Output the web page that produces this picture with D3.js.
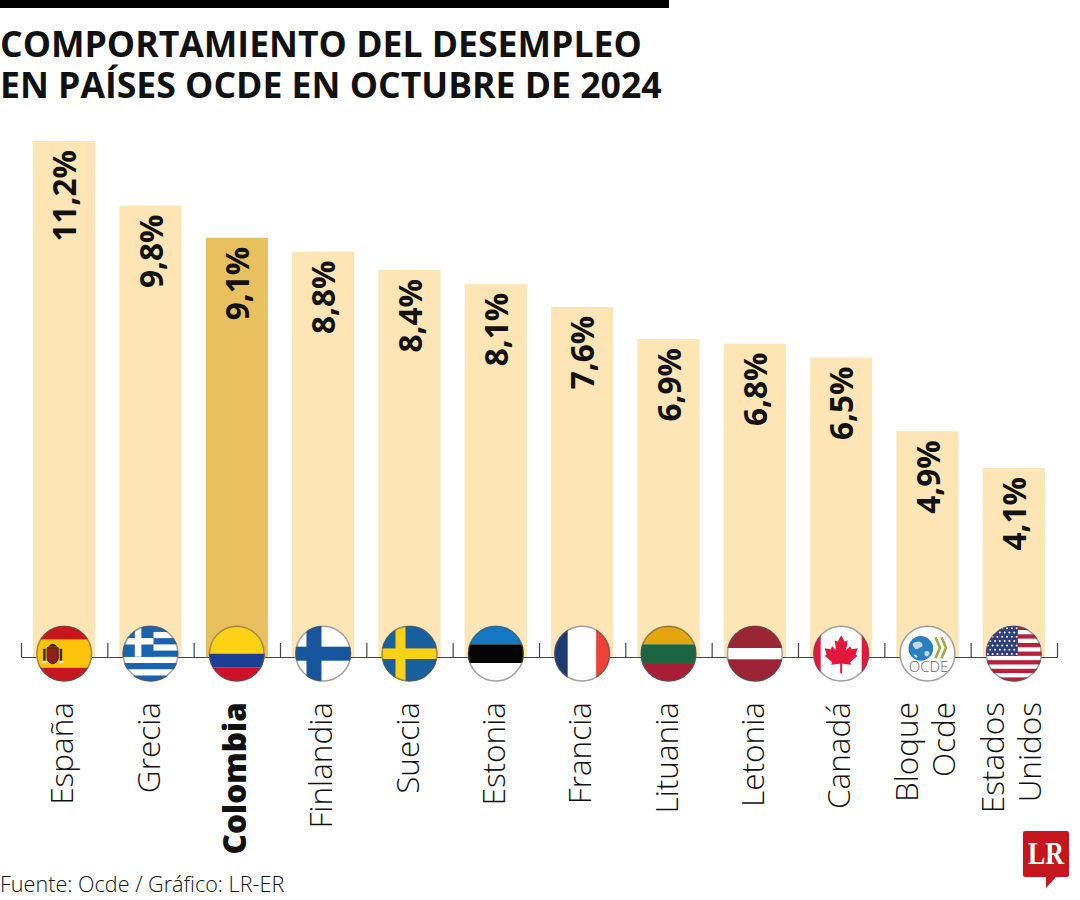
<!DOCTYPE html>
<html>
<head>
<meta charset="utf-8">
<script src="https://cdn.jsdelivr.net/npm/d3@7"></script>
<style>
  html, body { margin: 0; padding: 0; background: #fff; }
  svg { display: block; }
  text { font-family: "Open Sans", "Noto Sans", sans-serif; fill: #111; }
</style>
</head>
<body>
<svg width="1080" height="900"></svg>
<script>
// data
var paises = ["España", "Grecia", "Colombia", "Finlandia", "Suecia", "Estonia", "Francia", "Lituania", "Letonia", "Canadá", "Bloque Ocde", "Estados Unidos"];
var desempleo = [11.2, 9.8, 9.1, 8.8, 8.4, 8.1, 7.6, 6.9, 6.8, 6.5, 4.9, 4.1];
var etiquetas = ["11,2%", "9,8%", "9,1%", "8,8%", "8,4%", "8,1%", "7,6%", "6,9%", "6,8%", "6,5%", "4,9%", "4,1%"];
var titulo = ["COMPORTAMIENTO DEL DESEMPLEO", "EN PAÍSES OCDE EN OCTUBRE DE 2024"];
var fuente = "Fuente: Ocde / Gráfico: LR-ER";
var destacado = "Colombia";

var svg = d3.select("svg");
var baseY = 657, topY = 141;

var x = d3.scaleBand().domain(paises).range([21, 1057]).paddingInner(0.28).paddingOuter(0.14);
var y = d3.scaleLinear().domain([0, 11.2]).range([baseY, topY]);

// top rule
svg.append("rect").attr("x", 0).attr("y", 0).attr("width", 669).attr("height", 8).attr("fill", "#000");

// title
svg.selectAll("text.titulo").data(titulo).enter().append("text")
    .attr("class", "titulo")
    .attr("x", 0)
    .attr("y", function(d, i) { return 57 + i * 41; })
    .style("font-size", "35.6px")
    .style("font-weight", 700)
    .text(function(d) { return d; });

// bars
svg.selectAll("rect.bar").data(paises).enter().append("rect")
    .attr("class", "bar")
    .attr("x", function(d) { return x(d); })
    .attr("y", function(d, i) { return y(desempleo[i]); })
    .attr("width", x.bandwidth())
    .attr("height", function(d, i) { return baseY - y(desempleo[i]); })
    .attr("fill", function(d) { return d == destacado ? "#e8c060" : "#fde5b6"; });

// axis with ticks between the bars
var ejeX = d3.scalePoint().domain(d3.range(paises.length + 1)).range([21, 1057]);
var eje = svg.append("g")
    .attr("transform", "translate(0," + baseY + ")")
    .call(d3.axisBottom(ejeX).tickSize(-14).tickSizeOuter(0).tickFormat(""));
eje.selectAll("path, line").attr("stroke", "#444").attr("stroke-width", 1.2);

// value labels
svg.selectAll("text.valor").data(etiquetas).enter().append("text")
    .attr("class", "valor")
    .attr("text-anchor", "end")
    .attr("transform", function(d, i) {
      return "translate(" + (x(paises[i]) + x.bandwidth() / 2 + 12) + "," + (y(desempleo[i]) + 9) + ") rotate(-90)";
    })
    .style("font-size", "31.5px")
    .style("font-weight", 700)
    .text(function(d) { return d; });

// country labels, the long names take two lines
paises.forEach(function(p) {
  var lineas = p == "Bloque Ocde" || p == "Estados Unidos" ? p.split(" ") : [p];
  lineas.forEach(function(t, j) {
    var cx = x(p) + x.bandwidth() / 2 + 9 + (lineas.length == 2 ? (j == 0 ? -18.5 : 18) : 0);
    svg.append("text")
      .attr("text-anchor", "end")
      .attr("transform", "translate(" + cx + ",702) rotate(-90)")
      .style("font-size", "31.5px")
      .style("font-weight", p == destacado ? 800 : 300)
      .text(t);
  });
});

// flags, drawn in a 56x56 box centred on the bar
var franjas = {
  "Colombia": [["#fcd116", 0.5], ["#1c3f94", 0.25], ["#ce1126", 0.25]],
  "Estonia": [["#1578c2", 1], ["#050505", 1], ["#fff", 1]],
  "Lituania": [["#e5a50f", 1], ["#1c6442", 1], ["#a81e36", 1]],
  "Letonia": [["#9b2535", 2], ["#fff", 1], ["#9b2535", 2]],
  "España": [["#c8161d", 1], ["#fcc30b", 2], ["#c8161d", 1]]
};

var defs = svg.append("defs");
paises.forEach(function(p, i) {
  var id = "flag" + i;
  defs.append("clipPath").attr("id", id).append("circle").attr("r", 28);
  var cx = x(p) + x.bandwidth() / 2;
  var g = svg.append("g").attr("transform", "translate(" + cx + ",653.7)");
  var f = g.append("g").attr("clip-path", "url(#" + id + ")");
  f.append("rect").attr("x", -28).attr("y", -28).attr("width", 56).attr("height", 56).attr("fill", "#fff");
  if (franjas[p]) {
    var total = d3.sum(franjas[p], function(d) { return d[1]; }), acum = 0;
    franjas[p].forEach(function(d) {
      f.append("rect").attr("x", -28).attr("y", -28 + acum / total * 56)
        .attr("width", 56).attr("height", d[1] / total * 56).attr("fill", d[0]);
      acum += d[1];
    });
  }
  if (p == "España") escudo(f);
  if (p == "Grecia") grecia(f);
  if (p == "Finlandia") cruz(f, "#fff", "#17559c", -9.2, 15, 14);
  if (p == "Suecia") cruz(f, "#1a5f9e", "#fcd116", -9, 10, 10.6);
  if (p == "Francia") {
    f.append("rect").attr("x", -28).attr("y", -28).attr("width", 13.5).attr("height", 56).attr("fill", "#1d3a73");
    f.append("rect").attr("x", 14).attr("y", -28).attr("width", 14).attr("height", 56).attr("fill", "#ef4135");
  }
  if (p == "Canadá") canada(f);
  if (p == "Bloque Ocde") ocde(f);
  if (p == "Estados Unidos") usa(f);
  g.append("circle").attr("r", 27.4).attr("fill", "none").attr("stroke", "#555").attr("stroke-opacity", 0.55).attr("stroke-width", 1.5);
});

function cruz(f, fondo, color, cxx, anchoV, anchoH) {
  f.append("rect").attr("x", -28).attr("y", -28).attr("width", 56).attr("height", 56).attr("fill", fondo);
  f.append("rect").attr("x", cxx - anchoV / 2).attr("y", -28).attr("width", anchoV).attr("height", 56).attr("fill", color);
  f.append("rect").attr("x", -28).attr("y", -anchoH / 2).attr("width", 56).attr("height", anchoH).attr("fill", color);
}

function grecia(f) {
  var azul = "#1a63ae", h = 56 / 9;
  d3.range(9).forEach(function(k) {
    if (k % 2 == 0) f.append("rect").attr("x", -28).attr("y", -28 + k * h).attr("width", 56).attr("height", h).attr("fill", azul);
  });
  f.append("rect").attr("x", -28).attr("y", -28).attr("width", 31).attr("height", 31).attr("fill", azul);
  f.append("rect").attr("x", -28).attr("y", -15.6).attr("width", 31).attr("height", 6.4).attr("fill", "#fff");
  f.append("rect").attr("x", -15.7).attr("y", -28).attr("width", 6.6).attr("height", 31).attr("fill", "#fff");
}

function escudo(f) {
  f.append("path").attr("d", "M-17,-6 h11 v10 q0,5 -5.5,6 q-5.5,-1 -5.5,-6 z").attr("fill", "#8d1f1c").attr("stroke", "#3a1a10").attr("stroke-width", 1);
  f.append("path").attr("d", "M-16,-7 q4.5,-6 9,0 z").attr("fill", "#3a1a10");
  f.append("rect").attr("x", -21).attr("y", -5).attr("width", 2.5).attr("height", 14).attr("fill", "#3a3226");
  f.append("rect").attr("x", -4.5).attr("y", -5).attr("width", 2.5).attr("height", 14).attr("fill", "#3a3226");
  f.append("rect").attr("x", -22).attr("y", 7).attr("width", 4.5).attr("height", 2.5).attr("fill", "#ddd");
  f.append("rect").attr("x", -5.5).attr("y", 7).attr("width", 4.5).attr("height", 2.5).attr("fill", "#ddd");
}

function canada(f) {
  f.append("rect").attr("x", -28).attr("y", -28).attr("width", 7.5).attr("height", 56).attr("fill", "#e4173e");
  f.append("rect").attr("x", 20.5).attr("y", -28).attr("width", 7.5).attr("height", 56).attr("fill", "#e4173e");
  f.append("path").attr("fill", "#e4173e")
    .attr("d", "M0,-18.5 L3.5,-12 L6.5,-13.5 L5,-3.5 L9,-7.5 L10.5,-4.5 L16.5,-5.5 L14.5,1 L16.5,2 L9,8.5 L10,11 L1,10 L1,19.5 L-1,19.5 L-1,10 L-10,11 L-9,8.5 L-16.5,2 L-14.5,1 L-16.5,-5.5 L-10.5,-4.5 L-9,-7.5 L-5,-3.5 L-6.5,-13.5 L-3.5,-12 Z");
}

function ocde(f) {
  f.append("circle").attr("cx", -6.7).attr("cy", -5.3).attr("r", 12.3).attr("fill", "#2a7fc0");
  f.append("path").attr("d", "M-15,-10 q5,-4 9,-1 q3,4 -2,5 q-5,4 -7,-4 z M-3,-2 q5,-2 5,2 q-2,5 -5,1 z M-14,1 q3,-1 4,2 q-1,3 -4,-2 z").attr("fill", "#c5d9ea");
  f.append("path").attr("d", "M8,-16.5 L12.5,-6 L8,4.5 M14,-16.5 L18.5,-6 L14,4.5").attr("fill", "none").attr("stroke", "#a3a848").attr("stroke-width", 2.6);
  f.append("text").attr("text-anchor", "middle").attr("x", 1).attr("y", 18.5).style("font-size", "15px").style("font-weight", 300).style("fill", "#666").text("OCDE");
}

function usa(f) {
  var h = 56 / 13;
  d3.range(13).forEach(function(k) {
    if (k % 2 == 0) f.append("rect").attr("x", -28).attr("y", -28 + k * h).attr("width", 56).attr("height", h).attr("fill", "#b8203c");
  });
  f.append("rect").attr("x", -28).attr("y", -28).attr("width", 32).attr("height", 30).attr("fill", "#2f3f7c");
  d3.range(7).forEach(function(r) {
    d3.range(7).forEach(function(c) {
      f.append("circle").attr("cx", -26 + c * 4.8 + (r % 2) * 2.4).attr("cy", -25.5 + r * 4.3).attr("r", 1).attr("fill", "#fff");
    });
  });
}

// source
svg.append("text").attr("x", 0).attr("y", 892).style("font-size", "21.6px").style("font-weight", 300).text(fuente);

// logo
svg.append("path")
    .attr("d", "M1025,831 H1067 Q1069,831 1069,833 V875 Q1069,877 1067,877 H1056 L1046,888 V877 H1025 Q1023,877 1023,875 V833 Q1023,831 1025,831 Z")
    .attr("fill", "#c4161c");
svg.append("text").attr("x", 1028).attr("y", 864)
    .attr("textLength", 36).attr("lengthAdjust", "spacingAndGlyphs")
    .style("font-family", "'Liberation Serif', serif").style("font-weight", 700).style("font-size", "32px").style("fill", "#fff")
    .text("LR");
</script>
</body>
</html>
